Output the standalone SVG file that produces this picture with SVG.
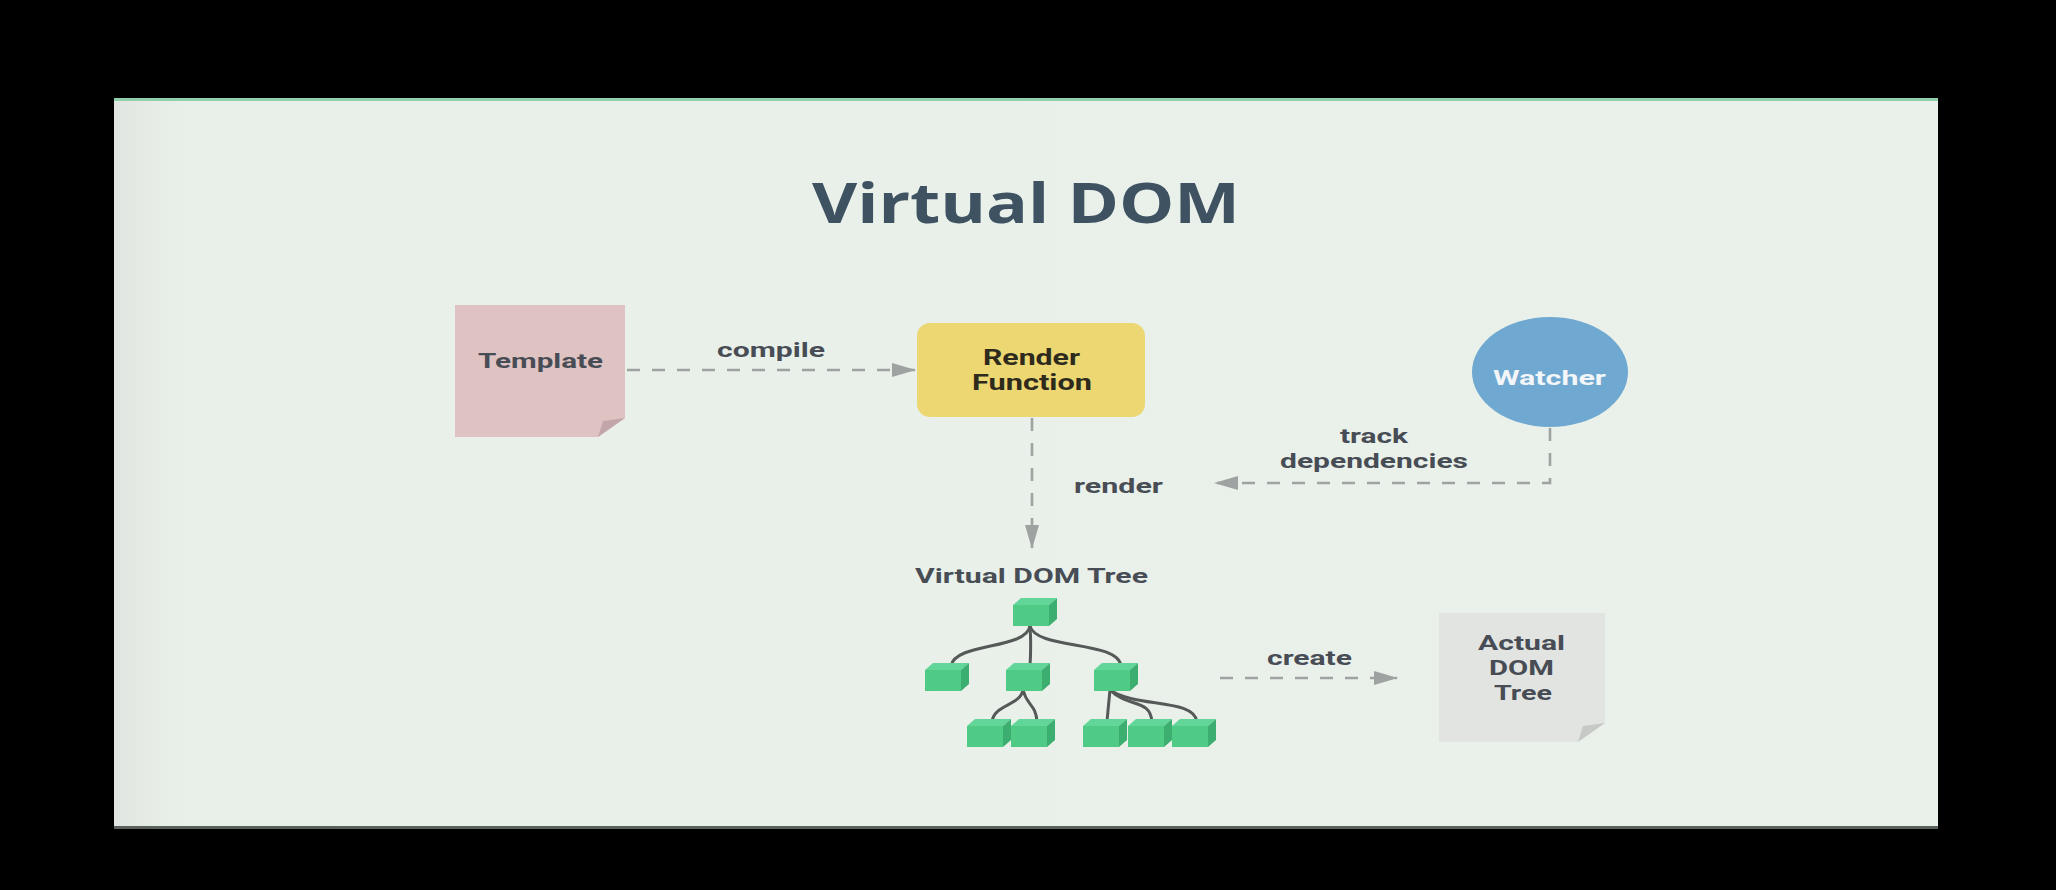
<svg xmlns="http://www.w3.org/2000/svg" xmlns:xlink="http://www.w3.org/1999/xlink" width="2056" height="890" viewBox="0 0 2056 890">
  <defs>
    <style>
      .lbl { font-family: Roboto, "Liberation Sans", sans-serif; font-weight: bold; font-size: 21px; fill: #474c55; }
      .dash { fill: none; stroke: #9ea3a2; stroke-width: 2.6; stroke-dasharray: 13 12; }
      .edge { fill: none; stroke: #555a58; stroke-width: 3; }
      .front { fill: #4fcb86; }
      .top { fill: #62d698; }
      .side { fill: #3cae6f; }
    </style>
    <linearGradient id="slideBg" x1="0" y1="0" x2="1" y2="0">
      <stop offset="0" stop-color="#e2e6e2"/>
      <stop offset="0.04" stop-color="#e9f0e9"/>
      <stop offset="1" stop-color="#e9f1ea"/>
    </linearGradient>
    <marker id="arrow" markerUnits="userSpaceOnUse" markerWidth="24" markerHeight="16" refX="23" refY="8" orient="auto">
      <path d="M0,1 L24,8 L0,15 Z" fill="#9ea3a2"/>
    </marker>
    <g id="cube">
      <path class="front" d="M0,7 H36 V28 H0 Z"/>
      <path class="top" d="M0,7 L8,0 H44 L36,7 Z"/>
      <path class="side" d="M36,7 L44,0 V21 L36,28 Z"/>
    </g>
  </defs>

  <rect x="0" y="0" width="2056" height="890" fill="#000"/>
  <rect x="114" y="98" width="1824" height="730" fill="url(#slideBg)"/>
  <rect x="114" y="98" width="1824" height="3" fill="#8fcfaa"/>
  <rect x="114" y="826" width="1824" height="3" fill="#5a605b"/>

  <text x="1026" y="223" text-anchor="middle" font-family="'Open Sans', 'Liberation Sans', sans-serif" font-weight="bold" font-size="56" fill="#3e5262" textLength="428" lengthAdjust="spacingAndGlyphs">Virtual DOM</text>

  <g id="connectors">
    <path class="dash" d="M627,370 H915" marker-end="url(#arrow)"/>
    <path class="dash" d="M1032,418 V548" marker-end="url(#arrow)"/>
    <path class="dash" d="M1550,428 V483 H1215" marker-end="url(#arrow)"/>
    <path class="dash" d="M1220,678 H1397" marker-end="url(#arrow)"/>
    <text class="lbl" x="717" y="357" textLength="108" lengthAdjust="spacingAndGlyphs">compile</text>
    <text class="lbl" x="1074" y="493" textLength="89" lengthAdjust="spacingAndGlyphs">render</text>
    <text class="lbl" x="1340" y="443" textLength="68" lengthAdjust="spacingAndGlyphs">track</text>
    <text class="lbl" x="1280" y="468" textLength="188" lengthAdjust="spacingAndGlyphs">dependencies</text>
    <text class="lbl" x="1267" y="665" textLength="85" lengthAdjust="spacingAndGlyphs">create</text>
  </g>

  <g id="template">
    <path d="M455,305 H625 V418 L598,437 H455 Z" fill="#dfc3c3"/>
    <path d="M625,418 L598,437 L603,421 Z" fill="#c2a6a9"/>
    <text class="lbl" x="478" y="368" textLength="125" lengthAdjust="spacingAndGlyphs">Template</text>
  </g>

  <g id="render-function">
    <rect x="917" y="323" width="228" height="94" rx="13" fill="#ecd773"/>
    <text x="983" y="365" font-family="Roboto, 'Liberation Sans', sans-serif" font-weight="bold" font-size="22" fill="#2e2a1c" textLength="97" lengthAdjust="spacingAndGlyphs">Render</text>
    <text x="972" y="390" font-family="Roboto, 'Liberation Sans', sans-serif" font-weight="bold" font-size="22" fill="#2e2a1c" textLength="120" lengthAdjust="spacingAndGlyphs">Function</text>
  </g>

  <g id="watcher">
    <ellipse cx="1550" cy="372" rx="78" ry="55" fill="#6fa8d0"/>
    <text x="1493" y="385" font-family="Roboto, 'Liberation Sans', sans-serif" font-weight="bold" font-size="21" fill="#f2f6f9" textLength="113" lengthAdjust="spacingAndGlyphs">Watcher</text>
  </g>

  <g id="virtual-dom-tree">
    <text class="lbl" x="915" y="583" textLength="233" lengthAdjust="spacingAndGlyphs">Virtual DOM Tree</text>
    <path class="edge" d="M1030,626 C1026,650 955,642 951,666"/>
    <path class="edge" d="M1030,626 C1031,640 1031,650 1030,666"/>
    <path class="edge" d="M1030,626 C1036,650 1118,640 1121,666"/>
    <path class="edge" d="M1023,690 C1020,706 994,704 992,722"/>
    <path class="edge" d="M1023,690 C1027,706 1036,704 1037,722"/>
    <path class="edge" d="M1110,690 C1109,700 1108,710 1107,722"/>
    <path class="edge" d="M1110,690 C1128,708 1150,698 1152,722"/>
    <path class="edge" d="M1110,690 C1136,708 1194,698 1197,722"/>
    <use xlink:href="#cube" x="1013" y="598"/>
    <use xlink:href="#cube" x="925" y="663"/>
    <use xlink:href="#cube" x="1006" y="663"/>
    <use xlink:href="#cube" x="1094" y="663"/>
    <use xlink:href="#cube" x="967" y="719"/>
    <use xlink:href="#cube" x="1011" y="719"/>
    <use xlink:href="#cube" x="1083" y="719"/>
    <use xlink:href="#cube" x="1128" y="719"/>
    <use xlink:href="#cube" x="1172" y="719"/>
  </g>

  <g id="actual-dom-tree">
    <path d="M1439,613 H1605 V723 L1578,742 H1439 Z" fill="#e2e4e2"/>
    <path d="M1605,723 L1578,742 L1583,726 Z" fill="#c6c9c6"/>
    <text class="lbl" x="1478" y="650" textLength="87" lengthAdjust="spacingAndGlyphs">Actual</text>
    <text class="lbl" x="1489" y="675" textLength="65" lengthAdjust="spacingAndGlyphs">DOM</text>
    <text class="lbl" x="1494" y="700" textLength="58" lengthAdjust="spacingAndGlyphs">Tree</text>
  </g>
</svg>
